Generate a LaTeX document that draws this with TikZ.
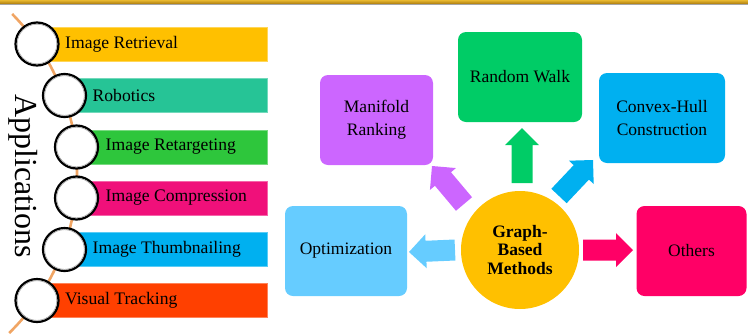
\documentclass[tikz,border=0pt]{standalone}
\usepackage{fontspec}
\setmainfont{Liberation Serif}
\usetikzlibrary{calc}

\definecolor{barYellow}{RGB}{255,192,0}
\definecolor{barTeal}{RGB}{38,196,150}
\definecolor{barGreen}{RGB}{46,198,60}
\definecolor{barPink}{RGB}{240,16,122}
\definecolor{barBlue}{RGB}{0,176,240}
\definecolor{barRed}{RGB}{255,64,0}
\definecolor{trackLine}{RGB}{240,165,100}
\definecolor{hubOrange}{RGB}{255,192,0}
\definecolor{optBlue}{RGB}{102,204,255}
\definecolor{othPink}{RGB}{255,0,102}
\definecolor{manPurple}{RGB}{204,102,255}
\definecolor{rwGreen}{RGB}{0,204,102}
\definecolor{chBlue}{RGB}{0,176,240}
\definecolor{bandTop}{RGB}{232,184,48}
\definecolor{bandBot}{RGB}{176,128,16}

% block arrow from tail (#2) to tip (#3)
\newcommand{\blockarrow}[3]{%
  \coordinate (ah) at ($(#3)!17pt!(#2)$);
  \fill[#1] ($(#2)!10.5pt!90:(#3)$) -- ($(ah)!10.5pt!90:(#3)$) -- ($(ah)!17pt!90:(#3)$)
    -- (#3) -- ($(ah)!17pt!-90:(#3)$) -- ($(ah)!10.5pt!-90:(#3)$)
    -- ($(#2)!10.5pt!-90:(#3)$) -- cycle;
}

\begin{document}
\begin{tikzpicture}[x=1pt,y=-1pt,
  appbar/.style={rectangle, anchor=west, minimum height=34pt,
    inner sep=0, fill=#1, draw=#1!65!white, line width=0.6pt},
  ring/.style={circle, minimum size=43pt, inner sep=0, fill=white, draw=black, line width=2.2pt},
  apptext/.style={anchor=west, inner sep=0, font=\fontsize{17.6}{20}\selectfont},
  methodbox/.style={rectangle, rounded corners=8pt, fill=#1, minimum height=90pt,
    align=center, inner sep=2pt, font=\fontsize{17.5}{23}\selectfont},
]
\useasboundingbox (0,0) rectangle (748,333);

% top band
\shade[top color=bandTop, bottom color=bandBot] (0,0) rectangle (748,3.6);
\draw[line width=0.8pt, black!35] (0,4.3) -- (748,4.3);

% curved track through the rings
\draw[trackLine, line width=2.6pt]
  plot[domain=14:333, samples=80] ({-148+225*sqrt(1-((\x-172)/225)^2)}, \x);

% rotated heading
\node[rotate=-90, inner sep=0, font=\fontsize{32}{36}\selectfont] (apps) at (23,176) {Applications};

% application bars, all ending at x = 267
\foreach \i/\col/\cx/\cy in {1/barYellow/37/44, 2/barTeal/64.5/95.5, 3/barGreen/76.5/147,
    4/barPink/76.5/198, 5/barBlue/64.5/249.5, 6/barRed/37/300.5} {
  \pgfmathsetmacro{\bw}{267-\cx}
  \node[appbar=\col, minimum width=\bw pt] (b\i) at (\cx,\cy) {};
}

% rings
\foreach \i/\cx/\cy in {1/37/44, 2/64.5/95.5, 3/76.5/147, 4/76.5/198, 5/64.5/249.5, 6/37/300.5} {
  \node[ring] (r\i) at (\cx,\cy) {};
  \draw[black!40, line width=0.5pt] (r\i.center) circle (19.8pt);
}

% bar labels
\node[apptext] (t1) at ($(r1.center)+(28,0)$) {Image Retrieval};
\node[apptext] (t2) at ($(r2.center)+(28,0)$) {Robotics};
\node[apptext] (t3) at ($(r3.center)+(29,0)$) {Image Retargeting};
\node[apptext] (t4) at ($(r4.center)+(29,0)$) {Image Compression};
\node[apptext] (t5) at ($(r5.center)+(28,0)$) {Image Thumbnailing};
\node[apptext] (t6) at ($(r6.center)+(28,0)$) {Visual Tracking};

% methods hub
\node[circle, fill=hubOrange, minimum size=118pt, inner sep=0, align=center,
  font=\fontsize{17.5}{18.5}\selectfont\bfseries] (gbm) at (520,250) {Graph-\\Based\\Methods};

\node[methodbox=optBlue,   minimum width=122pt] (opt) at (346,251) {Optimization};
\node[methodbox=othPink,   minimum width=110pt] (oth) at (691.5,251) {Others};
\node[methodbox=manPurple, minimum width=113pt] (man) at (376.5,120) {Manifold\\Ranking};
\node[methodbox=rwGreen,   minimum width=124pt] (rw)  at (520,77) {Random Walk};
\node[methodbox=chBlue,    minimum width=126pt] (ch)  at (662,118) {Convex-Hull\\Construction};

% arrow ends
\coordinate (rwTail) at (522,183);  \coordinate (rwTip) at (522,128);
\coordinate (manTail) at (464,204); \coordinate (manTip) at (432,166);
\coordinate (chTail) at (559,196);  \coordinate (chTip) at (593,160);
\coordinate (optTail) at (455,250); \coordinate (optTip) at (409,252);
\coordinate (othTail) at (583,250); \coordinate (othTip) at (633,250);

\blockarrow{rwGreen}{rwTail}{rwTip}
\blockarrow{manPurple}{manTail}{manTip}
\blockarrow{chBlue}{chTail}{chTip}
\blockarrow{optBlue}{optTail}{optTip}
\blockarrow{othPink}{othTail}{othTip}
\end{tikzpicture}
\end{document}
